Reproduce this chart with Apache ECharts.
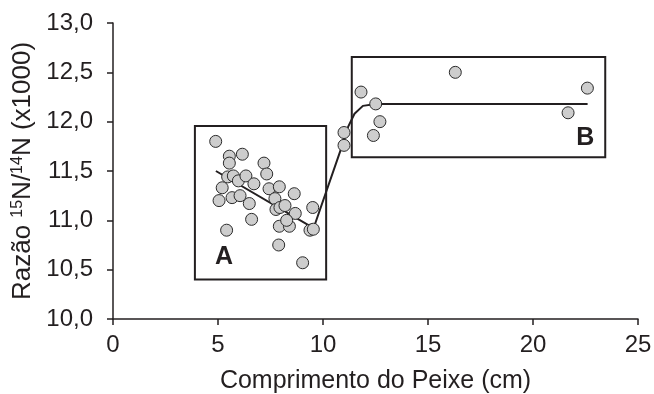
<!DOCTYPE html>
<html><head><meta charset="utf-8">
<script src="https://cdn.jsdelivr.net/npm/echarts@6/dist/echarts.min.js"></script>
<style>html,body{margin:0;padding:0;background:#fff}#c{width:654px;height:394px}</style>
</head><body><div id="c"></div>
<script>
// Group A (small fish)
const groupA = [
  [4.89,11.80],[5.54,11.65],[5.54,11.58],[6.16,11.67],[7.19,11.58],[7.32,11.47],
  [5.46,11.44],[5.73,11.45],[5.97,11.40],[6.33,11.45],[6.71,11.37],[5.20,11.33],
  [5.05,11.20],[5.67,11.23],[6.05,11.25],[6.49,11.17],[7.43,11.32],[7.92,11.34],
  [7.71,11.22],[8.63,11.27],[6.60,11.01],[5.41,10.90],[7.76,11.11],[7.95,11.13],
  [8.19,11.15],[8.68,11.07],[7.92,10.94],[8.40,10.94],[8.27,11.00],[9.51,11.13],
  [9.38,10.90],[9.54,10.91],[7.89,10.75],[9.03,10.57]
];
// Group B (large fish)
const groupB = [
  [11.0,11.89],[11.0,11.76],[11.81,12.30],[12.51,12.18],[12.71,12.00],[12.40,11.86],
  [16.30,12.50],[21.67,12.09],[22.59,12.34]
];
// Fitted curve
const fitLine = [
  [4.9,11.50],[9.55,10.92],[10.9,11.75],[11.2,11.95],[11.5,12.08],[11.9,12.16],[12.5,12.18],[22.6,12.18]
];
// Boxes [x0,y0,x1,y1] and their labels
const boxA = [3.9,10.40,10.15,11.955];
const boxB = [11.37,11.64,23.44,12.656];
const boxLabels = ['A','B'];
const xTicks = [0,5,10,15,20,25];
const yTicks = [10,10.5,11,11.5,12,12.5,13];

const font = 'Liberation Sans, Arial, sans-serif';
const ink = '#231f20';
const chart = echarts.init(document.getElementById('c'));
const markerStyle = {color:'#cdcdcd', borderColor:'#2a2a2a', borderWidth:1, opacity:1};
const letterStyle = {show:true, fontFamily:font, fontSize:25, fontWeight:'bold', color:ink, opacity:1};
chart.setOption({
  animation:false,
  grid:{left:113, top:23, right:16, bottom:75, outerBoundsMode:'none', containLabel:false},
  xAxis:{type:'value', min:xTicks[0], max:xTicks[xTicks.length-1], interval:5,
    name:'Comprimento do Peixe (cm)', nameLocation:'middle', nameGap:50,
    nameTextStyle:{fontFamily:font, fontSize:25, color:ink},
    axisLine:{lineStyle:{color:ink, width:1.5}},
    axisTick:{show:true, length:6, lineStyle:{color:ink, width:1.5}},
    axisLabel:{fontFamily:font, fontSize:24, color:ink, margin:14},
    splitLine:{show:false}},
  yAxis:{type:'value', min:yTicks[0], max:yTicks[yTicks.length-1], interval:0.5,
    name:'Razão {sup|15}N/{sup|14}N (x1000)', nameLocation:'middle', nameGap:74,
    nameTextStyle:{fontFamily:font, fontSize:26, color:ink,
      rich:{sup:{fontFamily:font, fontSize:16, color:ink, verticalAlign:'top', padding:[0,0,10,0]}}},
    axisLine:{show:true, lineStyle:{color:ink, width:1.5}},
    axisTick:{show:true, length:6, lineStyle:{color:ink, width:1.5}},
    axisLabel:{fontFamily:font, fontSize:24, color:ink, margin:20,
      formatter:v=>v.toFixed(1).replace('.',',')},
    splitLine:{show:false}},
  series:[
    {type:'line', data:fitLine, showSymbol:false, symbol:'none',
      lineStyle:{color:ink, width:2}, z:3,
      markArea:{silent:true,
        itemStyle:{color:'rgba(0,0,0,0)', borderColor:ink, borderWidth:2},
        label:{show:false},
        data:[
          [{coord:[boxA[0],boxA[1]]},{coord:[boxA[2],boxA[3]]}],
          [{coord:[boxB[0],boxB[1]]},{coord:[boxB[2],boxB[3]]}]
        ]}},
    {type:'scatter', data:groupA, symbolSize:12, itemStyle:markerStyle, z:4},
    {type:'scatter', data:groupB, symbolSize:12, itemStyle:markerStyle, z:4},
    {type:'scatter', silent:true, symbolSize:0, z:5, itemStyle:{opacity:1},
      data:[
        {value:[boxA[0],boxA[1]], label:Object.assign({}, letterStyle, {formatter:boxLabels[0], position:[20,-35]})},
        {value:[boxB[2],boxB[1]], label:Object.assign({}, letterStyle, {formatter:boxLabels[1], position:[-29,-32]})}
      ]}
  ]
});
</script></body></html>
